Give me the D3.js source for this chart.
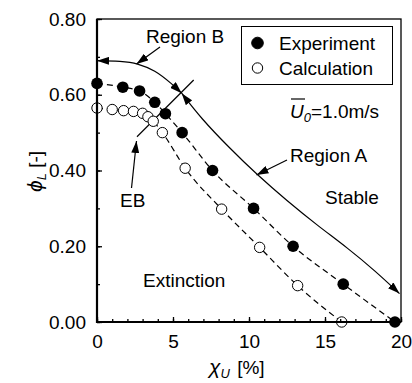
<!DOCTYPE html>
<html>
<head>
<meta charset="utf-8">
<script src="https://cdn.jsdelivr.net/npm/d3@7"></script>
<style>
  body { margin: 0; background: #fff; }
  svg { font-family: Arial, "Liberation Sans", sans-serif; }
  .data-line { fill: none; stroke: #000; stroke-width: 1.2; stroke-dasharray: 6 4; }
  .region-line { fill: none; stroke: #000; stroke-width: 1.2; }
  .tick line { stroke: #000; stroke-width: 1.3; }
  .tick text { font-size: 19px; fill: #000; }
  .label { font-size: 19px; fill: #000; }
</style>
</head>
<body>
<div id="wrapper"></div>
<script>
// values
const expX = [0, 1.7, 2.8, 3.8, 4.5, 5.6, 7.6, 10.3, 12.9, 16.2, 19.6]
const expY = [0.63, 0.62, 0.61, 0.58, 0.55, 0.50, 0.40, 0.30, 0.20, 0.10, 0.00]
const calcX = [0, 1.0, 1.75, 2.4, 3.0, 3.35, 3.7, 4.3, 5.8, 8.2, 10.7, 13.2, 16.1]
const calcY = [0.565, 0.561, 0.558, 0.556, 0.551, 0.542, 0.53, 0.50, 0.406, 0.298, 0.197, 0.096, 0.0]
const regionBX = [0, 1.5, 2.67, 3.8, 4.87, 5.57]
const regionBY = [0.69, 0.688, 0.681, 0.662, 0.630, 0.604]
const regionAX = [5.57, 6.84, 8.7, 10.5, 12.5, 14.5, 16.5, 18.3, 19.9]
const regionAY = [0.604, 0.538, 0.46, 0.39, 0.32, 0.255, 0.195, 0.135, 0.075]
const ebX = [2.63, 6.36]
const ebY = [0.489, 0.639]
const xTicks = [0, 5, 10, 15, 20]
const yTicks = [0, 0.2, 0.4, 0.6, 0.8]
const legendNames = ["Experiment", "Calculation"]

async function drawChart() {

    const zip = (xs, ys) => xs.map((x, i) => ({ x: x, y: ys[i] }))
    const expData = zip(expX, expY)
    const calcData = zip(calcX, calcY)

    // 2. Create chart dimensions
    let dimensions = {
        width: 412,
        height: 383,
        margin: {
            top: 19,
            right: 11,
            bottom: 61,
            left: 97,
        },
    }
    dimensions.boundedWidth = dimensions.width - dimensions.margin.left - dimensions.margin.right
    dimensions.boundedHeight = dimensions.height - dimensions.margin.top - dimensions.margin.bottom

    // 3. Draw canvas
    const wrapper = d3.select("#wrapper")
        .append("svg")
        .attr("width", dimensions.width)
        .attr("height", dimensions.height)

    const defs = wrapper.append("defs")
    defs.append("marker")
        .attr("id", "arrow")
        .attr("viewBox", "0 0 12 8")
        .attr("refX", 12)
        .attr("refY", 4)
        .attr("markerWidth", 12)
        .attr("markerHeight", 8)
        .attr("markerUnits", "userSpaceOnUse")
        .attr("orient", "auto-start-reverse")
        .append("path")
        .attr("d", "M0,0 L12,4 L0,8 Z")
        .attr("fill", "#000")

    const bounds = wrapper.append("g")
        .attr("transform", `translate(${dimensions.margin.left}, ${dimensions.margin.top})`)

    // 4. Create scales
    const xScale = d3.scaleLinear()
        .domain([0, 20])
        .range([0, dimensions.boundedWidth])

    const yScale = d3.scaleLinear()
        .domain([0, 0.8])
        .range([dimensions.boundedHeight, 0])

    // 5. Draw data
    const lineGenerator = d3.line()
        .x(d => xScale(d.x))
        .y(d => yScale(d.y))
        .curve(d3.curveMonotoneX)

    bounds.append("path")
        .attr("class", "data-line")
        .attr("d", lineGenerator(expData))

    bounds.append("path")
        .attr("class", "data-line")
        .attr("d", lineGenerator(calcData))

    bounds.append("path")
        .attr("class", "region-line")
        .attr("d", lineGenerator(zip(regionBX, regionBY)))
        .attr("marker-start", "url(#arrow)")
        .attr("marker-end", "url(#arrow)")

    bounds.append("path")
        .attr("class", "region-line")
        .attr("d", lineGenerator.curve(d3.curveBasis)(zip(regionAX, regionAY)))
        .attr("marker-start", "url(#arrow)")
        .attr("marker-end", "url(#arrow)")

    bounds.append("line")
        .attr("class", "region-line")
        .attr("x1", xScale(ebX[0]))
        .attr("y1", yScale(ebY[0]))
        .attr("x2", xScale(ebX[1]))
        .attr("y2", yScale(ebY[1]))

    bounds.selectAll(".calc")
        .data(calcData)
        .enter().append("circle")
        .attr("class", "calc")
        .attr("cx", d => xScale(d.x))
        .attr("cy", d => yScale(d.y))
        .attr("r", 5.2)
        .attr("fill", "#fff")
        .attr("stroke", "#000")
        .attr("stroke-width", 1)

    bounds.selectAll(".exp")
        .data(expData)
        .enter().append("circle")
        .attr("class", "exp")
        .attr("cx", d => xScale(d.x))
        .attr("cy", d => yScale(d.y))
        .attr("r", 5.8)
        .attr("fill", "#000")

    // 6. Draw peripherals
    // frame (top & right thinner)
    bounds.append("rect")
        .attr("width", dimensions.boundedWidth)
        .attr("height", dimensions.boundedHeight)
        .attr("fill", "none")
        .attr("stroke", "#000")
        .attr("stroke-width", 1.3)

    const xAxis = bounds.append("g")
        .attr("transform", `translate(0, ${dimensions.boundedHeight})`)
    xAxis.append("g")
        .call(d3.axisBottom(xScale).ticks(20).tickSize(-3).tickFormat(""))
    xAxis.append("g")
        .call(d3.axisBottom(xScale).tickValues(xTicks).tickSize(-5).tickPadding(13))
    xAxis.selectAll(".domain").remove()

    const yAxis = bounds.append("g")
    yAxis.append("g")
        .call(d3.axisLeft(yScale).ticks(8).tickSize(-3).tickFormat(""))
    yAxis.append("g")
        .call(d3.axisLeft(yScale).tickValues(yTicks).tickSize(-5).tickPadding(11).tickFormat(d3.format(".2f")))
    yAxis.selectAll(".domain").remove()

    bounds.append("line")
        .attr("x1", 0).attr("x2", 0)
        .attr("y1", 0).attr("y2", dimensions.boundedHeight + 1)
        .attr("stroke", "#000").attr("stroke-width", 2.2)
    bounds.append("line")
        .attr("x1", -1).attr("x2", dimensions.boundedWidth)
        .attr("y1", dimensions.boundedHeight).attr("y2", dimensions.boundedHeight)
        .attr("stroke", "#000").attr("stroke-width", 2.2)

    // axis labels
    const xLabel = wrapper.append("text")
        .attr("class", "label")
        .attr("x", 209)
        .attr("y", 374)
    xLabel.append("tspan").text("χ").style("font-style", "italic").style("font-size", "21px")
    xLabel.append("tspan").text("U").style("font-style", "italic")
        .attr("dy", 4).style("font-size", "13px")
    xLabel.append("tspan").text(" [%]").attr("dy", -4).attr("dx", 2)

    const yLabel = wrapper.append("text")
        .attr("class", "label")
        .attr("transform", "translate(42, 192) rotate(-90)")
    yLabel.append("tspan").text("ϕ").style("font-style", "italic").style("font-size", "21px")
    yLabel.append("tspan").text("L").style("font-style", "italic")
        .attr("dy", 4).style("font-size", "13px")
    yLabel.append("tspan").text(" [-]").attr("dy", -4)

    // legend
    const legend = wrapper.append("g")
    legend.append("rect")
        .attr("x", 241.5).attr("y", 26.5)
        .attr("width", 151).attr("height", 58)
        .attr("fill", "#fff").attr("stroke", "#000").attr("stroke-width", 1)
    legend.selectAll(".legend-marker")
        .data(legendNames)
        .enter().append("circle")
        .attr("cx", 257.5)
        .attr("cy", (d, i) => 43 + i * 25)
        .attr("r", (d, i) => i === 0 ? 5.8 : 5.2)
        .attr("fill", (d, i) => i === 0 ? "#000" : "#fff")
        .attr("stroke", "#000")
        .attr("stroke-width", 1)
    legend.selectAll(".legend-text")
        .data(legendNames)
        .enter().append("text")
        .attr("class", "label")
        .attr("x", 279)
        .attr("y", (d, i) => 50 + i * 25)
        .text(d => d)

    // annotations
    const addLabel = (text, x, y) => wrapper.append("text")
        .attr("class", "label")
        .attr("x", x)
        .attr("y", y)
        .text(text)
    addLabel("Region B", 146, 43)
    addLabel("Region A", 290, 162)
    addLabel("Stable", 325, 204)
    addLabel("Extinction", 143, 287)
    addLabel("EB", 120, 207)

    const uLabel = wrapper.append("text")
        .attr("class", "label")
        .attr("x", 290)
        .attr("y", 118)
    uLabel.append("tspan").text("U").style("font-style", "italic")
    uLabel.append("tspan").text("0").style("font-style", "italic")
        .attr("dy", 4).style("font-size", "13px")
    uLabel.append("tspan").text("=1.0m/s").attr("dy", -4)
    wrapper.append("line")
        .attr("x1", 291).attr("x2", 305)
        .attr("y1", 99).attr("y2", 99)
        .attr("stroke", "#000").attr("stroke-width", 1.2)

    // annotation arrows
    const pointer = (x1, y1, x2, y2) => wrapper.append("line")
        .attr("x1", x1).attr("y1", y1)
        .attr("x2", x2).attr("y2", y2)
        .attr("stroke", "#000").attr("stroke-width", 1.2)
        .attr("marker-end", "url(#arrow)")
    pointer(160, 47, 136.5, 64)
    pointer(287, 160, 256.5, 175)
    pointer(131.5, 188, 136.5, 141)
}
drawChart()
</script>
</body>
</html>
